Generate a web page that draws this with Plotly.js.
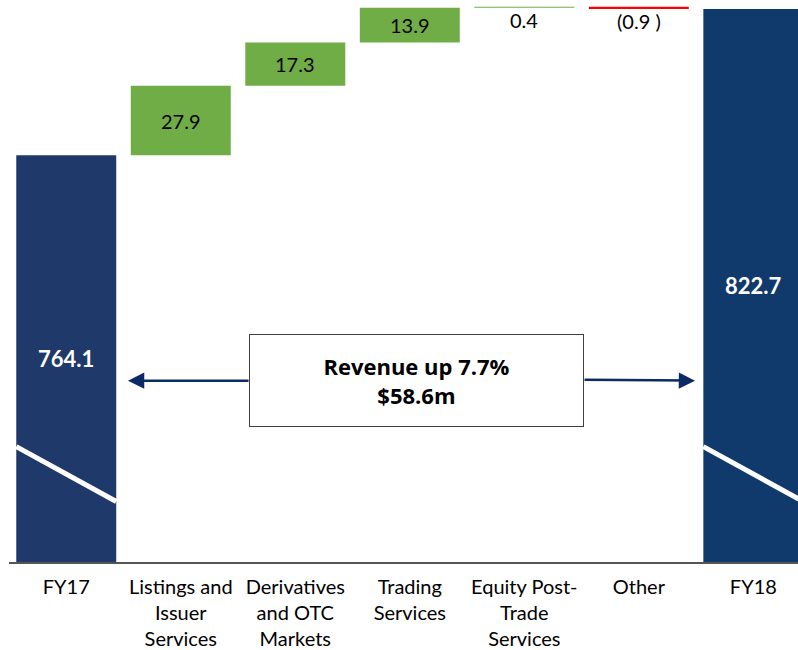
<!DOCTYPE html>
<html>
<head>
<meta charset="utf-8">
<script src="https://cdn.plot.ly/plotly-3.0.1.min.js"></script>
<style>html,body{margin:0;padding:0;background:#fff;}#chart{width:798px;height:650px;}</style>
</head>
<body>
<div id="chart"></div>
<script>
// ---- data ----
const categories = ['FY17', 'Listings and<br>Issuer<br>Services', 'Derivatives<br>and OTC<br>Markets', 'Trading<br>Services', 'Equity Post-<br>Trade<br>Services', 'Other', 'FY18'];
const values = [764.1, 27.9, 17.3, 13.9, 0.4, -0.9, 822.7];
const measures = ['total', 'relative', 'relative', 'relative', 'relative', 'relative', 'total'];
const valueLabels = ['764.1', '27.9', '17.3', '13.9', '0.4', '(0.9 )', '822.7'];
const calloutLines = ['Revenue up 7.7%', '$58.6m'];

// ---- styling ----
const FONT = 'Lato, "Open Sans", sans-serif';
const FONT_BOLD = '"Open Sans", Lato, sans-serif';
const yRange = [601.3, 826.3];
const barWidth = 0.873;
const colTotal = ['#1e396a', '#0f3a6b'];
const colUp = '#70ad47';
const colDown = '#ff0000';
const arrowCol = '#0b2a66';

// ---- build bars ----
const x = categories.map((c, i) => i);
const bases = [], lengths = [], colors = [];
let running = 0, totalIdx = 0;
values.forEach((v, i) => {
  if (measures[i] === 'total') {
    bases.push(0); lengths.push(v); running = v;
    colors.push(colTotal[totalIdx++]);
  } else {
    bases.push(running); lengths.push(v); running += v;
    colors.push(v >= 0 ? colUp : colDown);
  }
});

const trace = {
  type: 'bar', x: x, y: lengths, base: bases,
  width: barWidth, marker: {color: colors, line: {width: 0}},
  hoverinfo: 'none', cliponaxis: true
};

// ---- labels ----
const annotations = [];
values.forEach((v, i) => {
  const lo = Math.min(bases[i], bases[i] + v), hi = Math.max(bases[i], bases[i] + v);
  if (measures[i] === 'total') {
    annotations.push({x: i, y: (Math.max(lo, yRange[0]) + hi) / 2, xref: 'x', yref: 'y',
      text: '<b>' + valueLabels[i] + '</b>', showarrow: false,
      font: {family: FONT, size: 22, color: '#ffffff'}, yanchor: 'middle'});
  } else if ((hi - lo) * (562 / (yRange[1] - yRange[0])) > 25) {
    annotations.push({x: i, y: (lo + hi) / 2, xref: 'x', yref: 'y',
      text: valueLabels[i], showarrow: false,
      font: {family: FONT, size: 20, color: '#000000'}, yanchor: 'middle'});
  } else {
    annotations.push({x: i, y: lo, xref: 'x', yref: 'y', yshift: 2,
      text: valueLabels[i], showarrow: false,
      font: {family: FONT, size: 20, color: '#000000'}, yanchor: 'top'});
  }
});

// callout box
const boxL = 1.605, boxR = 4.513, boxMidY = 673.9;
annotations.push({x: (boxL + boxR) / 2, y: boxMidY, xref: 'x', yref: 'y',
  text: '<b>' + calloutLines.join('<br>') + '</b>', showarrow: false,
  font: {family: FONT_BOLD, size: 22, color: '#000000'},
  width: 331, height: 89, bgcolor: '#ffffff', bordercolor: '#404040', borderwidth: 1,
  align: 'center', valign: 'middle'});
// arrows
annotations.push({x: 0.539, y: boxMidY, ax: boxL, ay: boxMidY, xref: 'x', yref: 'y', axref: 'x', ayref: 'y',
  text: '', showarrow: true, arrowhead: 2, arrowsize: 1.3, arrowwidth: 2.5, arrowcolor: arrowCol});
annotations.push({x: 5.491, y: boxMidY, ax: boxR, ay: boxMidY + 0.4, xref: 'x', yref: 'y', axref: 'x', ayref: 'y',
  text: '', showarrow: true, arrowhead: 2, arrowsize: 1.3, arrowwidth: 2.5, arrowcolor: arrowCol});

// axis break marks
const shapes = [];
values.forEach((v, i) => {
  if (measures[i] === 'total') {
    shapes.push({type: 'line', xref: 'x', yref: 'y',
      x0: i - barWidth / 2, x1: i + barWidth / 2, y0: 647.5, y1: 625.5,
      line: {color: '#ffffff', width: 5}});
  }
});

const layout = {
  width: 798, height: 650,
  margin: {l: 9, r: 0, t: 0, b: 88, pad: 0},
  paper_bgcolor: '#ffffff', plot_bgcolor: '#ffffff',
  showlegend: false,
  xaxis: {
    range: [-0.5, 6.39], tickmode: 'array', tickvals: x, ticktext: categories,
    showgrid: false, zeroline: false, showline: true, linecolor: '#555555', linewidth: 2,
    ticks: '', ticklabelstandoff: 6,
    tickfont: {family: FONT, size: 20, color: '#000000'}, fixedrange: true
  },
  yaxis: {range: yRange, visible: false, showgrid: false, zeroline: false, fixedrange: true},
  annotations: annotations, shapes: shapes
};

Plotly.newPlot('chart', [trace], layout, {displayModeBar: false, staticPlot: true});
</script>
</body>
</html>
